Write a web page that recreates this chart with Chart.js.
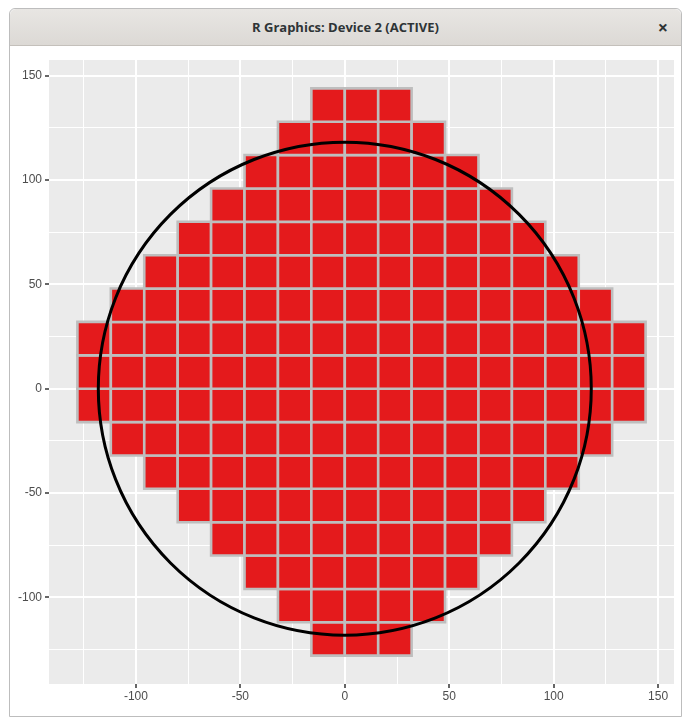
<!DOCTYPE html>
<html>
<head>
<meta charset="utf-8">
<script src="https://cdn.jsdelivr.net/npm/chart.js@4"></script>
<style>
  html, body { margin: 0; padding: 0; background: #fff; }
  body { width: 691px; height: 726px; position: relative; overflow: hidden; }
  #win {
    position: absolute; left: 9px; top: 8px; width: 671px; height: 707px;
    border: 1px solid #bdbdbd; border-radius: 6px 6px 0 0; background: #fff;
  }
  #titlebar {
    position: absolute; left: 0; top: 0; right: 0; height: 36px;
    background: linear-gradient(#e8e6e3, #dcd9d5);
    border-bottom: 1px solid #c4c0bb; border-radius: 6px 6px 0 0;
    font: bold 13px "Open Sans", "DejaVu Sans", sans-serif; color: #2e3436;
    text-align: center; line-height: 36px;
  }
  #close { position: absolute; right: 13px; top: 0; font-size: 18px; }
  #plot { position: absolute; left: 10px; top: 46px; width: 671px; height: 670px; }
</style>
</head>
<body>
<div id="win">
  <div id="titlebar">R Graphics: Device 2 (ACTIVE)<span id="close">×</span></div>
</div>
<div id="plot"><canvas id="c" width="671" height="670"></canvas></div>
<script>
// tiles, read row by row (bottom edge, left edge, right edge)
const tileSize = 16;
const rowBottoms = [-128, -112, -96, -80, -64, -48, -32, -16, 0, 16, 32, 48, 64, 80, 96, 112, 128];
const rowLefts = [-16, -32, -48, -64, -80, -96, -112, -128, -128, -128, -112, -96, -80, -64, -48, -32, -16];
const rowRights = [32, 48, 64, 80, 96, 112, 128, 144, 144, 144, 128, 112, 96, 80, 64, 48, 32];

// circle
const circleCenter = [0, 0];
const circleRadius = 118;

// axes
const axisMin = -141.6;
const axisMax = 157.6;
const majorBreaks = [-100, -50, 0, 50, 100, 150];
const minorBreaks = [-125, -75, -25, 25, 75, 125];

const tiles = [];
rowBottoms.forEach((b, i) => {
  for (let x = rowLefts[i]; x < rowRights[i]; x += tileSize) {
    tiles.push({ x: x + tileSize / 2, y: b + tileSize / 2 });
  }
});

const allBreaks = majorBreaks.concat(minorBreaks).sort((a, b) => a - b);
const isMajor = v => majorBreaks.includes(v);

function pxLen(chart, units) {
  const s = chart.scales.x;
  return Math.abs(s.getPixelForValue(units) - s.getPixelForValue(0));
}

const panelBg = {
  id: 'panelBg',
  beforeDraw(chart) {
    const a = chart.chartArea;
    const ctx = chart.ctx;
    ctx.save();
    ctx.fillStyle = '#ebebeb';
    ctx.fillRect(a.left, a.top, a.right - a.left, a.bottom - a.top);
    ctx.restore();
  }
};

function axisOpts(pos) {
  return {
    type: 'linear',
    position: pos,
    min: axisMin,
    max: axisMax,
    afterBuildTicks: s => { s.ticks = allBreaks.map(v => ({ value: v })); },
    afterFit: s => {
      if (pos === 'left') s.width = 39; else s.height = 32;
    },
    border: { display: false },
    grid: {
      color: '#ffffff',
      lineWidth: c => isMajor(c.tick.value) ? 2 : 1,
      tickColor: c => isMajor(c.tick.value) ? '#333333' : 'rgba(0,0,0,0)',
      tickWidth: 1.5,
      tickLength: 4
    },
    ticks: {
      autoSkip: false,
      maxRotation: 0,
      padding: pos === 'left' ? 3 : 1,
      color: '#4d4d4d',
      font: { family: '"Liberation Sans", Arial, sans-serif', size: 12 },
      callback: v => isMajor(v) ? String(v) : ''
    }
  };
}

new Chart(document.getElementById('c'), {
  type: 'scatter',
  data: {
    datasets: [
      {
        data: tiles,
        order: 2,
        pointStyle: 'rect',
        backgroundColor: '#e41a1c',
        borderColor: '#bebebe',
        borderWidth: 2.6,
        radius: c => pxLen(c.chart, tileSize / 2) * Math.SQRT2,
        hoverRadius: c => pxLen(c.chart, tileSize / 2) * Math.SQRT2
      },
      {
        data: [{ x: circleCenter[0], y: circleCenter[1] }],
        order: 1,
        pointStyle: 'circle',
        backgroundColor: 'rgba(0,0,0,0)',
        borderColor: '#000000',
        borderWidth: 3,
        radius: c => pxLen(c.chart, circleRadius),
        hoverRadius: c => pxLen(c.chart, circleRadius)
      }
    ]
  },
  options: {
    responsive: false,
    animation: false,
    events: [],
    layout: { padding: { top: 14, right: 7, left: 0, bottom: 0 } },
    plugins: { legend: { display: false }, tooltip: { enabled: false } },
    scales: { x: axisOpts('bottom'), y: axisOpts('left') }
  },
  plugins: [panelBg]
});
</script>
</body>
</html>
